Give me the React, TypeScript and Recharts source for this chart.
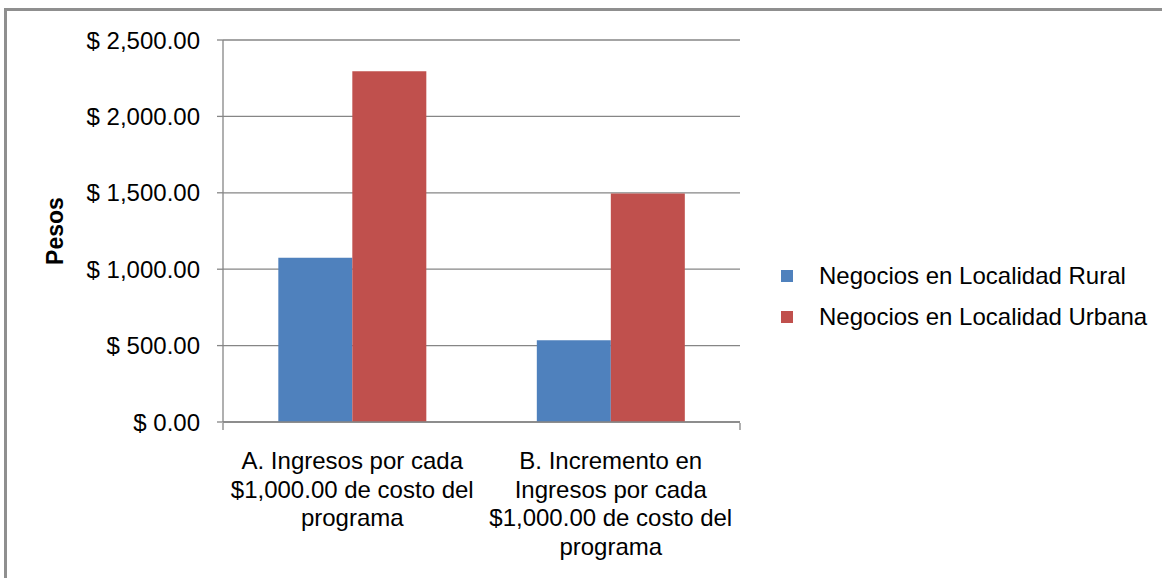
import React from "react";
import { BarChart, Bar, XAxis, YAxis, CartesianGrid, Legend } from "recharts";

const categories = [
  "A. Ingresos por cada $1,000.00 de costo del programa",
  "B. Incremento en Ingresos por cada $1,000.00 de costo del programa",
];
const categoryLines = [
  ["A. Ingresos por cada", "$1,000.00 de costo del", "programa"],
  ["B. Incremento en", "Ingresos por cada", "$1,000.00 de costo del", "programa"],
];
const ruralValues = [1075, 535];
const urbanaValues = [2295, 1495];
const yTicks = [0, 500, 1000, 1500, 2000, 2500];
const edgeTicks = [0, 1, 2];
const seriesNames = ["Negocios en Localidad Rural", "Negocios en Localidad Urbana"];
const seriesColors = ["#4F81BD", "#C0504D"];

const data = categories.map((name, i) => ({
  name,
  rural: ruralValues[i],
  urbana: urbanaValues[i],
}));

const FONT = '"Liberation Sans", Arial, sans-serif';
const FS = 24;
const AXIS_GRAY = "#868686";

const fmt = (v: number) =>
  "$ " + v.toLocaleString("en-US", { minimumFractionDigits: 2, maximumFractionDigits: 2 });

const XTick = (props: any) => {
  const { x, y, index } = props;
  const lines = categoryLines[index] || [];
  return (
    <text x={x} y={y} textAnchor="middle" fontSize={FS} fontFamily={FONT} fill="#000">
      {lines.map((l, i) => (
        <tspan key={i} x={x} dy={i === 0 ? 47 : 28.7}>
          {l}
        </tspan>
      ))}
    </text>
  );
};

const YTick = (props: any) => {
  const { x, y, payload } = props;
  return (
    <text x={x} y={y} dy={8.5} textAnchor="end" fontSize={FS} fontFamily={FONT} fill="#000">
      {fmt(payload.value)}
    </text>
  );
};

const EmptyTick = () => <g />;

const LegendContent = () => (
  <div style={{ fontFamily: FONT, fontSize: FS, color: "#000" }}>
    {seriesNames.map((n, i) => (
      <div key={n} style={{ display: "flex", alignItems: "center", height: 41.5 }}>
        <span
          style={{
            display: "inline-block",
            width: 12,
            height: 12,
            background: seriesColors[i],
            marginRight: 26,
          }}
        />
        <span style={{ whiteSpace: "nowrap" }}>{n}</span>
      </div>
    ))}
  </div>
);

const PesosLabel = (props: any) => {
  const vb = props.viewBox || {};
  const cx = (vb.x || 0) + 55;
  const cy = (vb.y || 0) + (vb.height || 0) / 2;
  return (
    <text
      x={cx}
      y={cy}
      transform={`rotate(-90 ${cx} ${cy})`}
      textAnchor="middle"
      dominantBaseline="central"
      fontSize={23}
      fontWeight="bold"
      fontFamily={FONT}
      fill="#000"
    >
      Pesos
    </text>
  );
};

export default function App() {
  return (
    <div style={{ position: "absolute", left: 0, top: 0, width: 1162, height: 578, overflow: "hidden", background: "#fff" }}>
      <div
        style={{
          position: "absolute",
          left: 4,
          top: 8,
          width: 1200,
          height: 600,
          borderLeft: "3px solid #8f8f8f",
          borderTop: "3px solid #8f8f8f",
        }}
      />
      <div style={{ position: "absolute", left: 0, top: 0 }}>
        <BarChart
          width={1162}
          height={578}
          data={data}
          margin={{ top: 40, right: 422, bottom: 154, left: 0 }}
          barCategoryGap="21.4%"
          barGap={0}
        >
          <CartesianGrid vertical={false} stroke={AXIS_GRAY} strokeWidth={1.3} />
          <XAxis
            xAxisId="cat"
            dataKey="name"
            height={1}
            axisLine={{ stroke: AXIS_GRAY, strokeWidth: 1.3 }}
            tickLine={false}
            tickSize={0}
            tickMargin={0}
            tick={<XTick />}
            interval={0}
          />
          <XAxis
            xAxisId="edge"
            type="number"
            domain={[0, 2]}
            ticks={edgeTicks}
            allowDataOverflow
            height={1}
            axisLine={false}
            tickLine={{ stroke: AXIS_GRAY, strokeWidth: 1.3 }}
            tickSize={7}
            tick={<EmptyTick />}
            interval={0}
          />
          <YAxis
            width={223}
            domain={[0, 2500]}
            ticks={yTicks}
            interval={0}
            axisLine={{ stroke: AXIS_GRAY, strokeWidth: 1.3 }}
            tickLine={{ stroke: AXIS_GRAY, strokeWidth: 1.3 }}
            tickSize={6}
            tickMargin={17}
            tick={<YTick />}
            label={{ content: <PesosLabel /> }}
          />
          <Legend
            layout="vertical"
            align="center"
            verticalAlign="middle"
            content={<LegendContent />}
            wrapperStyle={{ left: 781, top: 255, width: 380, height: 83 }}
          />
          <Bar xAxisId="cat" dataKey="rural" name={seriesNames[0]} fill={seriesColors[0]} isAnimationActive={false} />
          <Bar xAxisId="cat" dataKey="urbana" name={seriesNames[1]} fill={seriesColors[1]} isAnimationActive={false} />
        </BarChart>
      </div>
    </div>
  );
}
